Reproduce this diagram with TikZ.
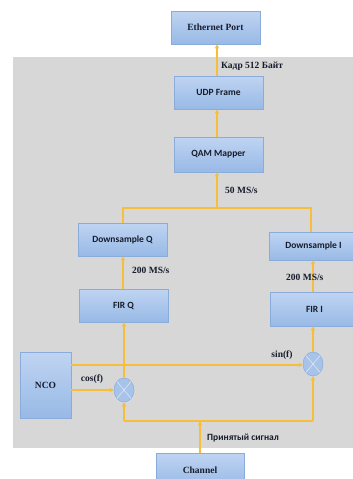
\documentclass[tikz,border=0pt]{standalone}
\usepackage{fontspec}
\setmainfont{Liberation Serif}
\newfontfamily\boxfont{Carlito}
\usetikzlibrary{arrows.meta,shapes.geometric}
\definecolor{bggray}{HTML}{D7D7D7}
\definecolor{boxtop}{HTML}{BFD4F2}
\definecolor{boxbot}{HTML}{98B9E6}
\definecolor{boxline}{HTML}{8AACDA}
\definecolor{wire}{HTML}{F7BE3A}
\definecolor{txt}{HTML}{161C2B}
\tikzset{
  blk/.style={rectangle, draw=boxline, line width=0.6pt, top color=boxtop, bottom color=boxbot,
    minimum width=89pt, minimum height=33pt, inner sep=0pt, text=txt, font=\boxfont\bfseries\fontsize{9.5}{11}\selectfont},
  serifblk/.style={blk, font=\bfseries\fontsize{9.5}{11}\selectfont},
  mult/.style={ellipse, draw=boxline, line width=0.5pt, fill=boxbot!85!white, minimum width=20pt, minimum height=24pt, inner sep=0pt},
  wr/.style={draw=wire, line width=1.3pt},
  arr/.style={wr, -{Triangle[length=4pt,width=4pt]}},
  lbl/.style={text=txt, font=\bfseries\fontsize{9.5}{11}\selectfont, inner sep=0pt},
  slbl/.style={text=txt, font=\boxfont\bfseries\fontsize{9.5}{11}\selectfont, inner sep=0pt}
}
\begin{document}
\begin{tikzpicture}[x=1pt,y=-1pt]
\useasboundingbox (0,0) rectangle (353,479);
\clip (0,0) rectangle (353,479);
\fill[white] (0,0) rectangle (353,479);
\fill[bggray] (13,57) rectangle (360,448);

\node[serifblk] (eth) at (215.5,27.5) {Ethernet Port};
\node[blk] (udp) at (218.5,92.5) {UDP Frame};
\node[blk, minimum height=35pt] (qam) at (218.5,154.5) {QAM Mapper};
\node[blk] (dsq) at (122.5,239.5) {Downsample Q};
\node[blk, minimum height=28pt] (dsi) at (313.5,246) {Downsample I};
\node[blk] (firq) at (123.5,305.5) {FIR Q};
\node[blk, minimum height=34pt] (firi) at (314.5,309) {FIR I};
\node[serifblk, minimum width=51pt, minimum height=66pt] (nco) at (45.5,385) {NCO};
\node[serifblk, minimum width=88pt, minimum height=34pt] (chan) at (200,470) {Channel};

\node[mult] (mc) at (124,390) {};
\node[mult] (ms) at (313,364) {};
\draw[white!70!boxline, line width=0.6pt] (mc.north west) -- (mc.south east) (mc.north east) -- (mc.south west);
\draw[white!70!boxline, line width=0.6pt] (ms.north west) -- (ms.south east) (ms.north east) -- (ms.south west);

\coordinate (jc) at (217,208);
\coordinate (jl) at (123,208);
\coordinate (jr) at (311,208);
\coordinate (bc) at (200,421);
\coordinate (bl) at (124,421);
\coordinate (br) at (313,421);

% upper chain
\draw[arr] (udp.north -| 217,0) -- (eth.south -| 217,0);
\draw[arr] (qam.north -| 217,0) -- (udp.south -| 217,0);
\draw[wr] (dsq.north -| jl) -- (jl) -- (jr) -- (dsi.north -| jr);
\draw[arr] (jc) -- (qam.south -| jc);
\draw[arr] (firq.north -| jl) -- (dsq.south -| jl);
\draw[arr] (firi.north -| br) -- (dsi.south -| br);
\draw[arr] (mc.north) -- (firq.south -| mc);
\draw[arr] (ms.north) -- (firi.south -| ms);

% NCO
\draw[arr] (nco.east |- 0,365) -- (ms.west |- 0,365);
\draw[arr] (nco.east |- mc) -- (mc.west);

% input loop
\draw[wr] (bl) -- (br);
\draw[arr] (bl) -- (mc.south);
\draw[arr] (br) -- (ms.south);
\draw[arr] (chan.north -| bc) -- (bc);

% labels
\node[lbl, anchor=west] (l1) at (221,66) {Кадр 512 Байт};
\node[lbl, anchor=west] (l2) at (225,190) {50 MS/s};
\node[lbl, anchor=west] (l3) at (132,270) {200 MS/s};
\node[lbl, anchor=west] (l4) at (286,277) {200 MS/s};
\node[lbl] (l5) at (282,355) {sin(f)};
\node[lbl] (l6) at (92,379) {cos(f)};
\node[slbl, anchor=west] (l7) at (207,438) {Принятый сигнал};
\end{tikzpicture}
\end{document}
